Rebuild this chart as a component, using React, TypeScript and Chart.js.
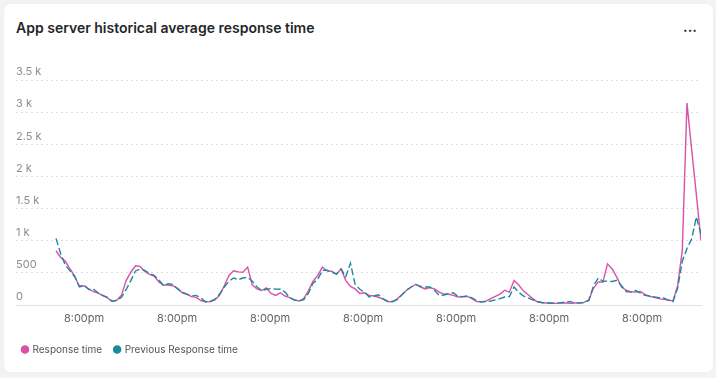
import React, { useEffect, useRef } from "react";
import { Chart, registerables } from "chart.js";

Chart.register(...registerables);

const seriesNames = ["Response time", "Previous Response time"];

const responseTime = [
  844, 740, 680, 560, 450, 280, 300, 250, 210, 185,
  145, 110, 55, 75, 150, 380, 510, 610, 600, 520,
  475, 450, 360, 310, 310, 300, 260, 190, 165, 130,
  118, 70, 50, 55, 80, 150, 300, 460, 531, 515,
  510, 590, 310, 250, 225, 265, 180, 150, 190, 140,
  115, 80, 62, 100, 220, 370, 460, 590, 530, 525,
  479, 560, 380, 290, 250, 180, 190, 150, 140, 120,
  90, 55, 50, 95, 160, 230, 280, 320, 280, 250,
  270, 250, 200, 170, 167, 150, 125, 128, 133, 100,
  55, 50, 60, 100, 135, 170, 230, 200, 380, 310,
  220, 160, 100, 50, 36, 32, 28, 26, 34, 32,
  27, 30, 36, 40, 80, 260, 360, 355, 640, 560,
  430, 280, 230, 205, 200, 210, 165, 135, 120, 100,
  88, 78, 62, 300, 850, 3140, 2420, 1720, 1000,
];

const previousResponseTime = [
  1036, 800, 620, 530, 440, 290, 310, 240, 250, 190,
  150, 120, 60, 70, 120, 240, 380, 530, 560, 540,
  490, 460, 390, 300, 330, 320, 250, 200, 170, 140,
  150, 110, 50, 55, 90, 170, 280, 370, 420, 395,
  420, 430, 370, 280, 225, 245, 255, 248, 245, 200,
  115, 78, 62, 85, 180, 340, 400, 540, 540, 510,
  479, 560, 440, 650, 320, 245, 200, 125, 140, 160,
  95, 55, 55, 85, 160, 230, 280, 320, 290, 280,
  280, 225, 150, 155, 175, 190, 135, 130, 140, 110,
  65, 45, 55, 62, 80, 100, 125, 130, 280, 200,
  140, 110, 80, 50, 38, 32, 30, 28, 35, 45,
  55, 28, 32, 38, 70, 300, 420, 370, 372, 365,
  385, 300, 210, 200, 225, 190, 150, 140, 125, 115,
  110, 75, 52, 260, 680, 880, 1026, 1370, 1104,
];

const xTickPositions = [6, 25.9, 45.8, 65.7, 85.6, 105.5, 125.4];
const xTickLabels = ["8:00pm", "8:00pm", "8:00pm", "8:00pm", "8:00pm", "8:00pm", "8:00pm"];

const yTickValues = [0, 500, 1000, 1500, 2000, 2500, 3000, 3500];
const yTickLabels = ["0", "500", "1 k", "1.5 k", "2 k", "2.5 k", "3 k", "3.5 k"];

const PINK = "#dc50a8";
const TEAL = "#1b8a9b";
const FONT = "Inter, 'Open Sans', sans-serif";

export default function App() {
  const ref = useRef<HTMLCanvasElement | null>(null);

  useEffect(() => {
    if (!ref.current) return;
    const chart = new Chart(ref.current, {
      type: "line",
      data: {
        datasets: [
          {
            label: seriesNames[0],
            data: responseTime.map((v, i) => ({ x: i, y: v })),
            borderColor: PINK,
            backgroundColor: PINK,
            borderWidth: 1.4,
            pointRadius: 0,
            tension: 0,
            order: 2,
          },
          {
            label: seriesNames[1],
            data: previousResponseTime.map((v, i) => ({ x: i, y: v })),
            borderColor: TEAL,
            backgroundColor: TEAL,
            borderWidth: 1.4,
            borderDash: [7, 3],
            pointRadius: 0,
            tension: 0,
            order: 1,
          },
        ],
      },
      options: {
        animation: false,
        responsive: false,
        maintainAspectRatio: false,
        layout: { padding: { top: 80, left: 10, right: 15, bottom: 13.5 } },
        scales: {
          x: {
            type: "linear",
            min: -8.56,
            max: 138,
            grid: { display: false },
            border: { display: true, color: "#e0e3e3", width: 1 },
            afterBuildTicks: (s: any) => {
              s.ticks = xTickPositions.map((v) => ({ value: v }));
            },
            afterFit: (s: any) => {
              s.height = 27;
            },
            ticks: {
              autoSkip: false,
              maxRotation: 0,
              padding: -1,
              color: "#5f6666",
              font: { family: FONT, size: 11 },
              callback: (_v: any, i: number) => xTickLabels[i],
            },
          },
          y: {
            min: 0,
            max: 3500,
            afterBuildTicks: (s: any) => {
              s.ticks = yTickValues.map((v) => ({ value: v }));
            },
            afterFit: (s: any) => {
              s.width = 6;
            },
            grid: { drawTicks: false, color: "#dde0e0", lineWidth: 1 },
            border: { display: false, dash: [2, 3] },
            ticks: {
              mirror: true,
              padding: 0,
              labelOffset: -8,
              color: "#878e8e",
              font: { family: FONT, size: 11 },
              callback: (_v: any, i: number) => yTickLabels[i],
            },
          },
        },
        plugins: {
          tooltip: { enabled: false },
          legend: {
            position: "bottom",
            align: "start",
            labels: {
              usePointStyle: true,
              pointStyle: "circle",
              boxWidth: 5,
              boxHeight: 5,
              padding: 12.5,
              color: "#4e5656",
              font: { family: FONT, size: 10 },
              sort: (a: any, b: any) => a.datasetIndex - b.datasetIndex,
            },
          },
        },
      },
    } as any);
    return () => chart.destroy();
  }, []);

  return (
    <div style={{ position: "absolute", left: 0, top: 0, width: 716, height: 378, background: "#f2f3f3", overflow: "hidden" }}>
      <div
        style={{
          position: "absolute",
          left: 4,
          top: 4,
          width: 709,
          height: 368,
          background: "#ffffff",
          borderRadius: 6,
          boxShadow: "0 0 1px rgba(0,0,0,0.08)",
        }}
      />
      <div
        style={{
          position: "absolute",
          left: 16,
          top: 19,
          fontFamily: FONT,
          fontWeight: 600,
          fontSize: 14,
          lineHeight: "18px",
          color: "#1f2729",
          whiteSpace: "nowrap",
        }}
      >
        App server historical average response time
      </div>
      <div
        style={{
          position: "absolute",
          left: 683,
          top: 18,
          fontFamily: FONT,
          fontWeight: 700,
          fontSize: 14,
          lineHeight: "18px",
          color: "#2a3133",
        }}
      >
        ...
      </div>
      <canvas ref={ref} width={716} height={378} style={{ position: "absolute", left: 0, top: 0, width: 716, height: 378 }} />
    </div>
  );
}
